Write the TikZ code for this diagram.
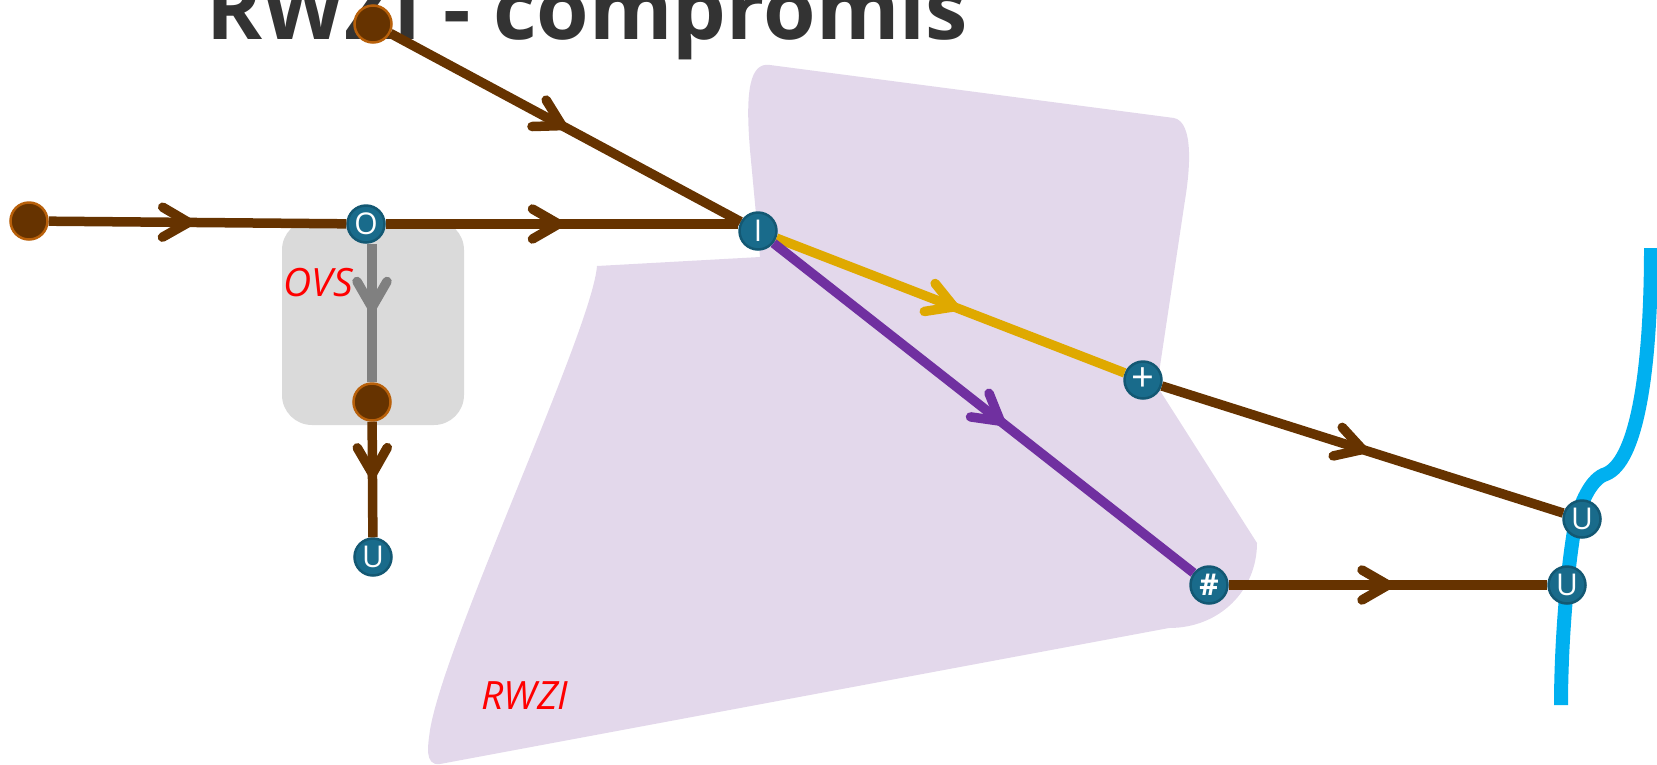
\documentclass[tikz,border=0pt]{standalone}
\usepackage{fontspec}
\setmainfont{Open Sans}
\usetikzlibrary{decorations.markings}
\definecolor{sewer}{HTML}{663300}
\definecolor{sewerrim}{HTML}{B8600A}
\definecolor{stopfill}{HTML}{196B8B}
\definecolor{stoprim}{HTML}{135873}
\definecolor{effluent}{HTML}{DFA900}
\definecolor{sludge}{HTML}{7030A0}
\definecolor{river}{HTML}{00B0F0}
\definecolor{plant}{HTML}{E3D8EB}
\definecolor{ovsbox}{HTML}{DADADA}
\definecolor{titlegrey}{HTML}{333333}
\begin{document}
\begin{tikzpicture}[x=1pt,y=-1pt,
	stop/.style={circle,fill=stopfill,draw=stoprim,line width=2.5pt,minimum size=37pt,inner sep=0pt,
		text=white,font=\fontsize{30}{32}\selectfont},
	source/.style={circle,fill=sewer,draw=sewerrim,line width=2.5pt,minimum size=37pt,inner sep=0pt},
	flow/.style 2 args={line width=9.5pt,draw=#1,postaction={decorate},
		decoration={markings,mark=at position #2 with {\draw[#1,line width=9.5pt,line cap=round,line join=round]
			(-26pt,15pt) -- (0pt,0pt) -- (-26pt,-15pt);}}},
	area/.style={text=red,font=\fontsize{39}{40}\selectfont\itshape}]
\useasboundingbox (0,0) rectangle (1657,764);
% RWZI terrain
\fill[plant] (770,65) -- (1174,118) .. controls (1194,122) and (1190,170) .. (1185,200)
	-- (1157,386) -- (1257,543) .. controls (1257,590) and (1220,628) .. (1169,628)
	-- (440,764) .. controls (424,766) and (428,745) .. (430,730)
	.. controls (445,640) and (592,330) .. (597,266) -- (760,257)
	-- (750,150) .. controls (745,90) and (750,62) .. cycle;
% OVS terrain
\fill[ovsbox,rounded corners=30pt] (282,220) rectangle (464,425);
\node[anchor=base,text=titlegrey,font=\fontsize{85}{90}\selectfont\bfseries] (title) at (587,39) {RWZI - compromis};
% river
\draw[river,line width=14pt] (1651,248) .. controls (1651,380) and (1635,462) .. (1606,474)
	.. controls (1592,478) and (1582,500) .. (1576,520) .. controls (1568,560) and (1561,640) .. (1561,705);
% nodes
\node[source] (west) at (29,221) {};
\node[source] (north) at (373,24) {};
\node[stop] (O) at (366,224) {O};
\node[stop] (I) at (758,231) {I};
\node[stop,font=\fontsize{40}{40}\selectfont] (plus) at (1143,380) {+};
\node[stop] (hash) at (1209,585) {\textbf{\#}};
\node[stop] (U1) at (1582,519) {U};
\node[stop] (U2) at (1567,585) {U};
\node[source] (ovs) at (372,402) {};
\node[stop] (U3) at (373,557) {U};
% flows
\draw[flow={sewer}{0.47}] (west) -- (O);
\draw[flow={sewer}{0.49}] (O) -- (O -| I.west);
\draw[flow={sewer}{0.49}] (north) -- (I);
\draw[flow={effluent}{0.51}] (I) -- (plus);
\draw[flow={sludge}{0.54}] (I) -- (hash);
\draw[flow={sewer}{0.5}] (plus) -- (U1);
\draw[flow={sewer}{0.5}] (hash) -- (U2);
\draw[flow={gray}{0.46}] (ovs |- O.south) -- (ovs);
\draw[flow={sewer}{0.45}] (ovs) -- (U3);
% labels
\node[area,anchor=base west] (ovslabel) at (280,296) {OVS};
\node[area,anchor=base west] (rwzilabel) at (478,709) {RWZI};
\end{tikzpicture}
\end{document}
